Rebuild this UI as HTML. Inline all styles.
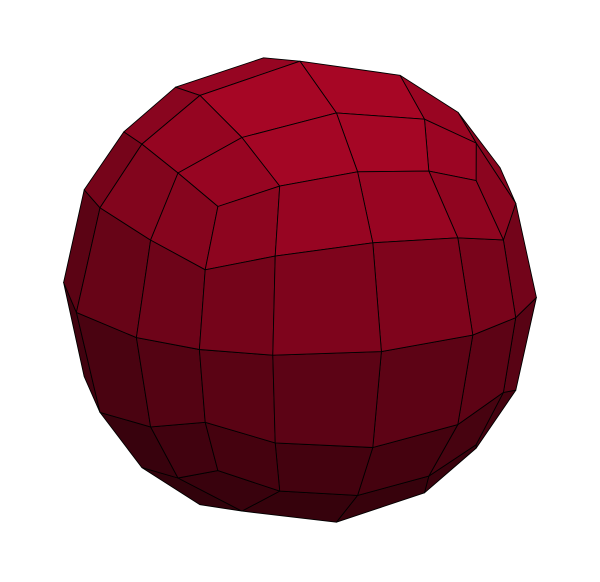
<!DOCTYPE html>
<html><head><meta charset="utf-8"><style>html,body{margin:0;background:#fff}svg{display:block}</style></head>
<body>
<svg id="chart" width="600" height="582" viewBox="0 0 600 582">
<g id="mesh"></g>
</svg>
<script>
const subdivisions = [4];
const rotationDeg = [20, 16];
const baseColor = [170, 6, 38];
const lightDir = [0.15, 0.8, 0.55];
const CX = 300, CY = 290, R = 238;
const N = subdivisions[0];
const ya = rotationDeg[0]*Math.PI/180, pa = rotationDeg[1]*Math.PI/180;
function norm(v){const l=Math.hypot(v[0],v[1],v[2]);return [v[0]/l,v[1]/l,v[2]/l];}
function rot(v){
  let x=v[0]*Math.cos(ya)+v[2]*Math.sin(ya), z=-v[0]*Math.sin(ya)+v[2]*Math.cos(ya), y=v[1];
  let y2=y*Math.cos(pa)-z*Math.sin(pa), z2=y*Math.sin(pa)+z*Math.cos(pa);
  return [x,y2,z2];
}
const L = norm(lightDir);
const faces = [
  (u,v)=>[u,v,1],(u,v)=>[-u,v,-1],(u,v)=>[1,v,-u],(u,v)=>[-1,v,u],(u,v)=>[u,1,-v],(u,v)=>[u,-1,v]
];
const quads=[];
faces.forEach((f,fi)=>{
  for(let i=0;i<N;i++)for(let j=0;j<N;j++){
    const g=(a,b)=>rot(norm(f(-1+2*a/N,-1+2*b/N)));
    const pts=[g(i,j),g(i+1,j),g(i+1,j+1),g(i,j+1)];
    let c=[0,0,0];pts.forEach(p=>{c[0]+=p[0];c[1]+=p[1];c[2]+=p[2];});
    const n=norm(c);
    if(n[2]<=0.02) continue;
    quads.push({pts,n,z:n[2]});
  }
});
quads.sort((a,b)=>a.z-b.z);
const g=document.getElementById('mesh');
quads.forEach((q,k)=>{
  const d=q.n[0]*L[0]+q.n[1]*L[1]+q.n[2]*L[2];
  const t=(d+1)/2;
  const f=0.25+0.75*Math.pow(t,1.6);
  const col=`rgb(${Math.round(baseColor[0]*f)},${Math.round(baseColor[1]*f)},${Math.round(baseColor[2]*f)})`;
  const p=document.createElementNS('http://www.w3.org/2000/svg','polygon');
  p.setAttribute('points',q.pts.map(v=>(CX+R*v[0]).toFixed(1)+','+(CY-R*v[1]).toFixed(1)).join(' '));
  p.setAttribute('fill',col);
  p.setAttribute('stroke','#000');
  p.setAttribute('stroke-width','0.9');
  p.setAttribute('stroke-linejoin','round');
  
  
  g.appendChild(p);
});
</script>
</body></html>
